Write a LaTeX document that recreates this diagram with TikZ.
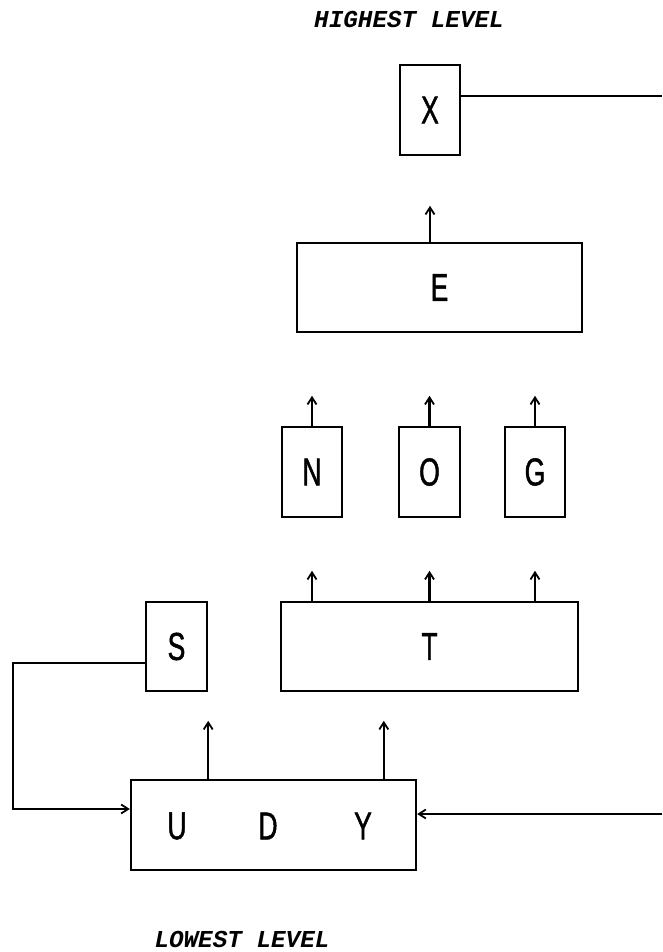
\documentclass[tikz,border=0pt]{standalone}
\usepackage{fontspec}
\usetikzlibrary{arrows.meta,calc}
\newfontfamily\lblfont[FakeStretch=0.68,FakeBold=1.2]{Liberation Sans}
\newfontfamily\levfont{Liberation Mono}
\begin{document}
\begin{tikzpicture}[x=1pt,y=-1pt,
  blk/.style={draw,line width=2.4pt,rectangle,inner sep=0pt,font=\lblfont\fontsize{39}{41}\selectfont},
  lbl/.style={font=\lblfont\fontsize{39}{41}\selectfont},
  arr/.style={line width=2.2pt,-{Straight Barb[length=7pt,width=9pt,line width=1.8pt]}},
  ln/.style={line width=2.2pt},
  lev/.style={font=\levfont\bfseries\itshape\fontsize{24.3}{26}\selectfont}]
\useasboundingbox (0,0) rectangle (662,952);
% level labels
\node[lev] (hi) at (409,19) {HIGHEST LEVEL};
\node[lev] (lo) at (242,939) {LOWEST LEVEL};
% boxes
\node[blk,minimum width=60pt,minimum height=90pt] (X) at (430,110) {X};
\node[blk,minimum width=285pt,minimum height=89pt] (E) at (439.5,287.5) {E};
\node[blk,minimum width=60pt,minimum height=90pt] (N) at (312,472) {N};
\node[blk,minimum width=61pt,minimum height=90pt] (O) at (429.5,472) {O};
\node[blk,minimum width=60pt,minimum height=90pt] (G) at (535,472) {G};
\node[blk,minimum width=297pt,minimum height=89pt] (T) at (429.5,646.5) {T};
\node[blk,minimum width=61pt,minimum height=89pt] (S) at (176.5,646.5) {S};
\node[blk,minimum width=285pt,minimum height=90pt] (U) at (273.5,825) {};
\node[lbl] (uu) at (177,826) {U};
\node[lbl] (ud) at (268,826) {D};
\node[lbl] (uy) at (363,826) {Y};
% free ends
\coordinate (xr) at (662,96);
\coordinate (rin) at (662,814);
\coordinate (lft) at (13,663);
% connectors
\draw[ln] (X.east |- xr) -- (xr);
\draw[arr] (E.north -| X) -- ++(0,-36);
\draw[arr] (N.north) -- ++(0,-30);
\draw[arr] (O.north) -- ++(0,-30);
\draw[arr] (G.north) -- ++(0,-30);
\draw[arr] (T.north -| N) -- ++(0,-30);
\draw[arr] (T.north -| O) -- ++(0,-30);
\draw[arr] (T.north -| G) -- ++(0,-30);
\draw[arr] (U.north -| S.east) -- ++(0,-58);
\draw[arr] ($(U.north west)+(254,0)$) -- ++(0,-58);
\draw[arr] (S.west |- lft) -- (lft) -- (lft |- 0,809) -- (U.west |- 0,809);
\draw[arr] (rin) -- (U.east |- rin);
\end{tikzpicture}
\end{document}
